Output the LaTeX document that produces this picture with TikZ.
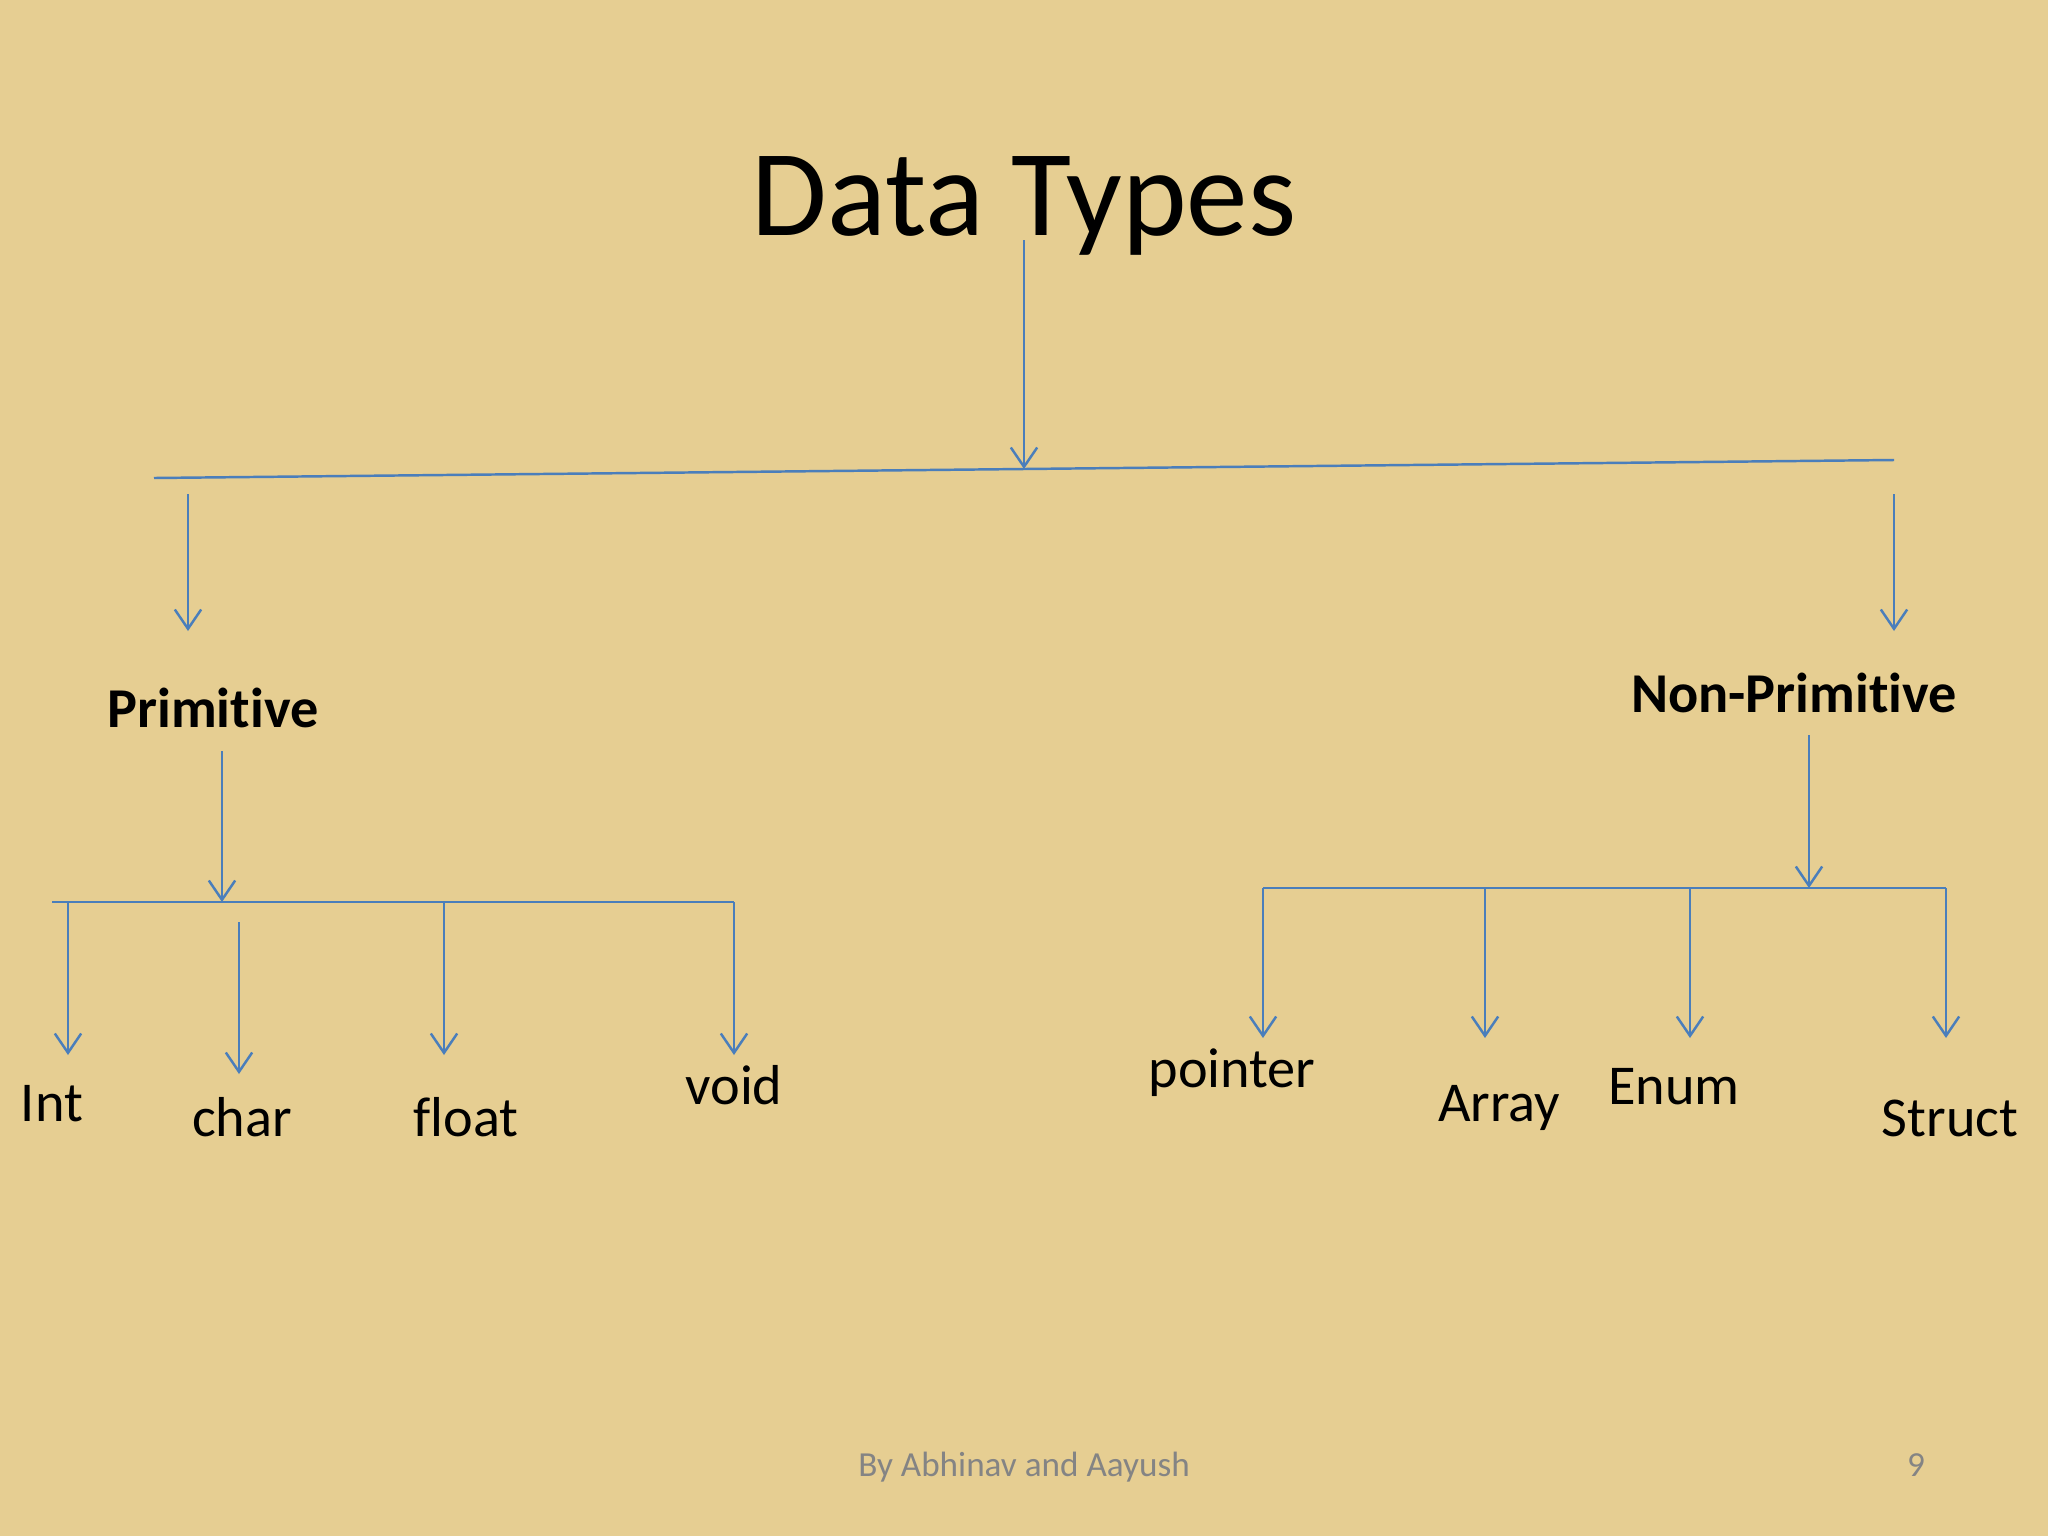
\documentclass[tikz,border=0pt]{standalone}
\usepackage{fontspec}
\setmainfont{Carlito}[Ligatures={NoCommon}]
\usetikzlibrary{arrows.meta,positioning,calc}
\definecolor{paper}{RGB}{230,206,146}
\definecolor{linkblue}{RGB}{74,126,187}
\definecolor{footgray}{RGB}{132,132,132}

\begin{document}
\begin{tikzpicture}[
    x = 0.01cm, y = -0.01cm,
    leaf/.style = {anchor=base, inner sep=0pt, font=\fontsize{16}{19}\selectfont},
    branch/.style = {leaf, font=\fontsize{16}{19}\selectfont\bfseries},
    link/.style = {draw=linkblue, line width=0.7pt},
    arr/.style = {link, -{Straight Barb[length=5.5pt,width=7.5pt]}}
]
    % Background
    \fill[paper] (0,0) rectangle (2048,1536);
    \useasboundingbox (0,0) rectangle (2048,1536);

    % Title
    \node[anchor=base, inner sep=0pt, font=\fontsize{35}{42}\selectfont] (title) at (1024,235) {Data Types};
    \coordinate (titleout) at (1024,240);
    \coordinate (top) at (1024,469);
    \coordinate (topL) at (154,478);
    \coordinate (topR) at (1894,460);

    % Second level
    \node[branch] (prim) at (213,727) {Primitive};
    \node[branch] (nonprim) at (1794,712) {Non-Primitive};
    \coordinate (primin) at (188,631);
    \coordinate (nonprimin) at (1894,631);

    % Primitive bus
    \coordinate (primout) at (222,751);
    \coordinate (pbus) at (222,902);
    \coordinate (pbusL) at (52,902);
    \coordinate (pbusR) at (734,902);

    % Non-primitive bus
    \coordinate (npout) at (1809,735);
    \coordinate (npbus) at (1809,888);
    \coordinate (npbusL) at (1263,888);
    \coordinate (npbusR) at (1946,888);

    % Leaves
    \node[leaf] (int) at (52,1121) {Int};
    \node[leaf] (char) at (242,1136) {char};
    \node[leaf] (float) at (466,1136) {float};
    \node[leaf] (void) at (734,1104) {void};
    \node[leaf] (pointer) at (1232,1087) {pointer};
    \node[leaf] (array) at (1499,1121) {Array};
    \node[leaf] (enum) at (1674,1104) {Enum};
    \node[leaf] (struct) at (1950,1136) {Struct};

    % Footer
    \node[anchor=base, inner sep=0pt, text=footgray, font=\fontsize{10}{12}\selectfont] (footer) at (1024,1476) {By Abhinav and Aayush};
    \node[anchor=base, inner sep=0pt, text=footgray, font=\fontsize{10}{12}\selectfont] (page) at (1916,1476) {9};

    % Connectors
    \draw[arr] (titleout) -- (top);
    \draw[link] (topL) -- (topR);
    \draw[arr] (188,494) -- (primin);
    \draw[arr] (1894,494) -- (nonprimin);

    \draw[arr] (primout) -- (pbus);
    \draw[link] (pbusL) -- (pbusR);
    \draw[arr] (68,902) -- (68,1055);
    \draw[arr] (239,922) -- (239,1074);
    \draw[arr] (444,902) -- (444,1055);
    \draw[arr] (pbusR) -- (734,1055);

    \draw[arr] (npout) -- (npbus);
    \draw[link] (npbusL) -- (npbusR);
    \foreach \x in {1263,1485,1690,1946}
        \draw[arr] (\x,888) -- (\x,1038);

\end{tikzpicture}
\end{document}
